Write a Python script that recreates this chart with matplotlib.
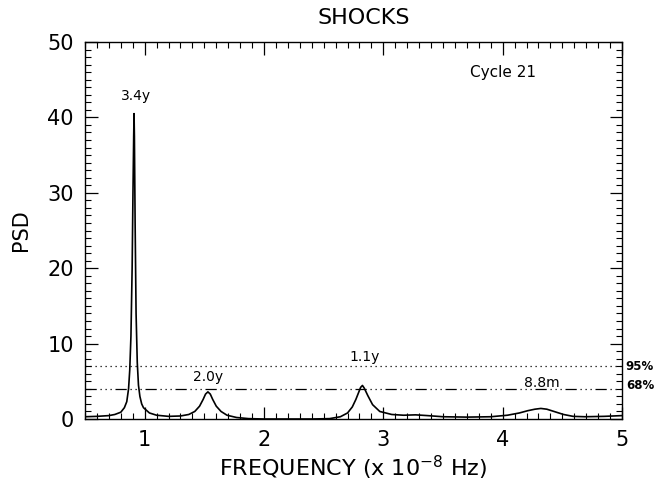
import matplotlib
matplotlib.use("Agg")
import matplotlib.pyplot as plt
from matplotlib.ticker import MultipleLocator

# Data
freq = [0.50, 0.60, 0.70, 0.75, 0.80, 0.83, 0.85, 0.865, 0.875, 0.885, 0.895, 0.902, 0.908,
        0.911, 0.914, 0.920, 0.928, 0.938, 0.948, 0.960, 0.975, 0.99, 1.04, 1.10, 1.20,
        1.30, 1.37, 1.42, 1.46, 1.49, 1.51, 1.53, 1.55, 1.57, 1.60, 1.64, 1.69, 1.77,
        1.87, 2.00, 2.20, 2.40, 2.55, 2.64, 2.70, 2.74, 2.77, 2.79, 2.81, 2.825, 2.84,
        2.87, 2.91, 2.97, 3.07, 3.17, 3.27, 3.37, 3.50, 3.70, 3.90, 4.04, 4.14, 4.21,
        4.27, 4.32, 4.37, 4.43, 4.51, 4.59, 4.69, 4.85, 5.00]
psd = [0.30, 0.35, 0.45, 0.60, 0.90, 1.50, 2.30, 4.00, 6.50, 11.0, 20.0, 30.0, 37.5,
       40.5, 37.5, 26.0, 14.0, 7.5, 4.5, 3.0, 2.0, 1.50, 0.80, 0.50, 0.35,
       0.40, 0.60, 1.00, 1.70, 2.60, 3.30, 3.60, 3.30, 2.60, 1.70, 1.00, 0.50, 0.20,
       0.05, 0.00, 0.00, 0.00, 0.05, 0.30, 0.80, 1.60, 2.60, 3.40, 4.20, 4.45, 4.10,
       3.10, 1.90, 1.00, 0.60, 0.50, 0.55, 0.45, 0.30, 0.25, 0.30, 0.50, 0.80, 1.10,
       1.30, 1.40, 1.30, 1.00, 0.60, 0.35, 0.30, 0.35, 0.45]

conf95 = 7.0
conf68 = 4.0

peak_labels = ["3.4y", "2.0y", "1.1y", "8.8m"]
peak_label_x = [0.93, 1.53, 2.84, 4.33]
peak_label_y = [42.8, 5.6, 8.2, 4.8]

xticks = [1, 2, 3, 4, 5]
yticks = [0, 10, 20, 30, 40, 50]

plt.rcParams['font.family'] = ['DejaVu Sans']
fig = plt.figure(figsize=(6.61, 4.84), dpi=100)
ax = fig.add_axes([85/661, (484-419)/484, (622-85)/661, (419-42)/484])

ax.plot(freq, psd, color='black', lw=1.2)
ax.plot([0.5, 5.0], [conf95, conf95], color='black', lw=0.9, linestyle=(0, (1, 3)))
ax.plot([0.5, 5.0], [conf68, conf68], color='black', lw=0.9,
        linestyle=(0, (9, 3, 1, 3, 1, 3, 1, 3)))

ax.set_xlim(0.5, 5.0)
ax.set_ylim(0, 50)
ax.set_xticks(xticks)
ax.set_yticks(yticks)
ax.xaxis.set_minor_locator(MultipleLocator(0.1))
ax.yaxis.set_minor_locator(MultipleLocator(1))
ax.tick_params(which='both', direction='in', top=True, right=True, labelsize=15, colors='black')
ax.tick_params(which='major', length=9, width=0.9, pad=8)
ax.tick_params(which='minor', length=4, width=0.8)
for s in ax.spines.values():
    s.set_linewidth(1.0)

ax.set_title("SHOCKS", fontsize=16, pad=13, x=0.52)
ax.set_xlabel("FREQUENCY (x 10$^{-8}$ Hz)", fontsize=16, labelpad=3)
ax.set_ylabel("PSD", fontsize=15, labelpad=12)

for lab, lx, ly in zip(peak_labels, peak_label_x, peak_label_y):
    ax.text(lx, ly, lab, fontsize=10, ha='center', va='center')

ax.text(4.0, 45.9, "Cycle 21", fontsize=11, ha='center', va='center')
ax.text(1.007, conf95, "95%", transform=ax.get_yaxis_transform(), fontsize=8.5,
        ha='left', va='center', fontweight='bold')
ax.text(1.007, conf68 + 0.5, "68%", transform=ax.get_yaxis_transform(), fontsize=8.5,
        ha='left', va='center', fontweight='bold')

fig.savefig("out.png", dpi=100)
